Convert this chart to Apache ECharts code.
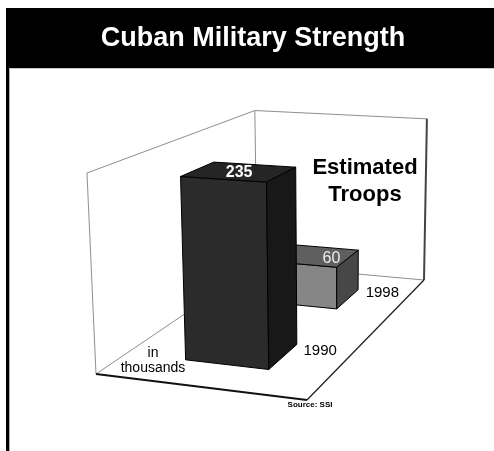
<!DOCTYPE html>
<html>
<head>
<meta charset="utf-8">
<script src="https://cdn.jsdelivr.net/npm/echarts@6/dist/echarts.min.js"></script>
<style>
  html, body { margin: 0; padding: 0; background: #fff; }
  #chart { width: 494px; height: 451px; }
</style>
</head>
<body>
<div id="chart"></div>
<script>
// Estimated troop strength, in thousands
const years = ['1990', '1998'];
const troops = [235, 60];
const valueMax = 250;

// Shading for each bar: front, top and side faces
const barShades = [
  { front: '#2b2b2b', top: '#252525', side: '#181818', label: '#ffffff', labelWeight: 'bold' },
  { front: '#868686', top: '#5f5f5f', side: '#474747', label: '#eeeeee', labelWeight: 'normal' }
];

// Perspective box: floor corners on screen (front-left, front-right, back-right, back-left)
const FLOOR = [[96, 374], [307, 400], [424, 280], [257, 265]];
const WALL_PX = 201;          // wall height at the front-left corner
const LEAN_X = 330, LEAN_K = 0.000192; // slight convergence of verticals
const BAR_S = [0.30, 0.71];   // bar extent across the floor
const BAR_DEPTH = 0.38;       // share of a category band used by a bar

function homography(q) {
  const [x0, y0] = q[0], [x1, y1] = q[1], [x2, y2] = q[2], [x3, y3] = q[3];
  const dx1 = x1 - x2, dx2 = x3 - x2, dx3 = x0 - x1 + x2 - x3;
  const dy1 = y1 - y2, dy2 = y3 - y2, dy3 = y0 - y1 + y2 - y3;
  const den = dx1 * dy2 - dy1 * dx2;
  const g = (dx3 * dy2 - dy3 * dx2) / den;
  const h = (dx1 * dy3 - dy1 * dx3) / den;
  return {
    a: x1 - x0 + g * x1, b: x3 - x0 + h * x3, c: x0,
    d: y1 - y0 + g * y1, e: y3 - y0 + h * y3, f: y0, g: g, h: h
  };
}
const H = homography(FLOOR);

// s: across (0 left .. 1 right), t: depth (0 front .. 1 back), z: share of axis height
function proj(s, t, z) {
  const w = H.g * s + H.h * t + 1;
  const bx = (H.a * s + H.b * t + H.c) / w;
  const by = (H.d * s + H.e * t + H.f) / w;
  const zpx = z * WALL_PX / w;
  return [bx + (bx - LEAN_X) * LEAN_K * zpx, by - zpx];
}

function line(p, q, color, width, z2) {
  return { type: 'line', shape: { x1: p[0], y1: p[1], x2: q[0], y2: q[1] },
           style: { stroke: color, lineWidth: width }, z2: z2 || 0, silent: true };
}

function renderFrame(params, api) {
  const wall = '#8f8f8f';
  return {
    type: 'group',
    children: [
      line(proj(0, 0, 0), proj(0, 1, 0), wall, 1),
      line(proj(0, 1, 0), proj(1, 1, 0), wall, 1),
      line(proj(0, 0, 0), proj(0, 0, 1), wall, 1),
      line(proj(0, 0, 1), proj(0, 1, 1), wall, 1),
      line(proj(0, 1, 0), proj(0, 1, 1), wall, 1),
      line(proj(0, 1, 1), proj(1, 1, 1), wall, 1),
      line(proj(1, 1, 0), proj(1, 1, 1), '#444', 2),
      line(proj(0, 0, 0), proj(1, 0, 0), '#111', 2),
      line(proj(1, 0, 0), proj(1, 1, 0), '#222', 1.3)
    ]
  };
}

function renderBar(params, api) {
  const cs = params.coordSys;
  const idx = api.value(0);
  const val = api.value(1);
  const base = api.coord([idx, 0]);
  const top = api.coord([idx, val]);
  const band = api.size([1, 0])[0] / cs.width;
  const tc = (base[0] - cs.x) / cs.width;
  const t0 = tc - band * BAR_DEPTH / 2, t1 = tc + band * BAR_DEPTH / 2;
  const z = (base[1] - top[1]) / cs.height;
  const [s0, s1] = BAR_S;
  const shade = barShades[idx];
  const zb = 100 - idx * 20;
  const poly = (pts, fill) => ({
    type: 'polygon', shape: { points: pts },
    style: { fill: fill, stroke: '#000', lineWidth: 1, lineJoin: 'round' }, z2: zb
  });
  // bars further back are partly covered, so their value sits on the visible part of the top
  const labelS = idx === 0 ? (s0 + s1) / 2 : s0 + (s1 - s0) * 0.78;
  const topC = proj(labelS, (t0 + t1) / 2, z);
  const yearP = proj(0.81, tc, 0);
  return {
    type: 'group',
    children: [
      poly([proj(s0, t0, 0), proj(s1, t0, 0), proj(s1, t0, z), proj(s0, t0, z)], shade.front),
      poly([proj(s0, t0, z), proj(s1, t0, z), proj(s1, t1, z), proj(s0, t1, z)], shade.top),
      poly([proj(s1, t0, 0), proj(s1, t1, 0), proj(s1, t1, z), proj(s1, t0, z)], shade.side),
      {
        type: 'text', z2: zb + 1, silent: true,
        style: { text: String(val), x: topC[0], y: topC[1] + 1, align: 'center', verticalAlign: 'middle',
                 fill: shade.label, font: shade.labelWeight + ' 16px "Liberation Sans", Arial, sans-serif' }
      },
      {
        type: 'text', z2: zb + 1, silent: true,
        style: { text: years[idx], x: yearP[0], y: yearP[1] - 8, align: 'left', verticalAlign: 'middle',
                 fill: '#000', font: '15px "Liberation Sans", Arial, sans-serif' }
      }
    ]
  };
}

const chart = echarts.init(document.getElementById('chart'), null, { renderer: 'canvas' });
chart.setOption({
  animation: false,
  backgroundColor: '#fff',
  grid: { left: 60, right: 60, top: 100, bottom: 60, show: false },
  xAxis: { type: 'category', data: years, show: false },
  yAxis: { type: 'value', min: 0, max: valueMax, show: false },
  graphic: [
    { type: 'rect', shape: { x: 6, y: 8, width: 488, height: 60 }, style: { fill: '#000' }, silent: true },
    { type: 'rect', shape: { x: 6, y: 68, width: 3, height: 383 }, style: { fill: '#000' }, silent: true },
    { type: 'line', shape: { x1: 9.5, y1: 69, x2: 9.5, y2: 451 }, style: { stroke: '#b0b0b0', lineWidth: 1 }, silent: true },
    { type: 'line', shape: { x1: 9, y1: 68.5, x2: 494, y2: 68.5 }, style: { stroke: '#c8c8c8', lineWidth: 1 }, silent: true },
    {
      type: 'text', silent: true,
      style: { text: 'Cuban Military Strength', x: 253, y: 39, align: 'center', verticalAlign: 'middle',
               fill: '#fff', font: 'bold 27px "Liberation Sans", Arial, sans-serif' }
    },
    {
      type: 'text', silent: true,
      style: { text: 'Estimated\nTroops', x: 365, y: 181, align: 'center', verticalAlign: 'middle',
               lineHeight: 27, fill: '#000', font: 'bold 22px "Liberation Sans", Arial, sans-serif' }
    },
    {
      type: 'text', silent: true,
      style: { text: 'in\nthousands', x: 153, y: 361, align: 'center', verticalAlign: 'middle',
               lineHeight: 15, fill: '#000', font: '14px "Liberation Sans", Arial, sans-serif' }
    },
    {
      type: 'text', silent: true,
      style: { text: 'Source: SSI', x: 310, y: 405, align: 'center', verticalAlign: 'middle',
               fill: '#000', font: 'bold 8px "Liberation Sans", Arial, sans-serif' }
    }
  ],
  series: [
    { type: 'custom', name: 'frame', renderItem: renderFrame, data: [[0, 0]], z: 1, silent: true },
    {
      type: 'custom', name: 'Estimated Troops', renderItem: renderBar, z: 2, silent: true,
      encode: { x: 0, y: 1 },
      data: years.map((y, i) => [i, troops[i]])
    }
  ]
});
</script>
</body>
</html>
